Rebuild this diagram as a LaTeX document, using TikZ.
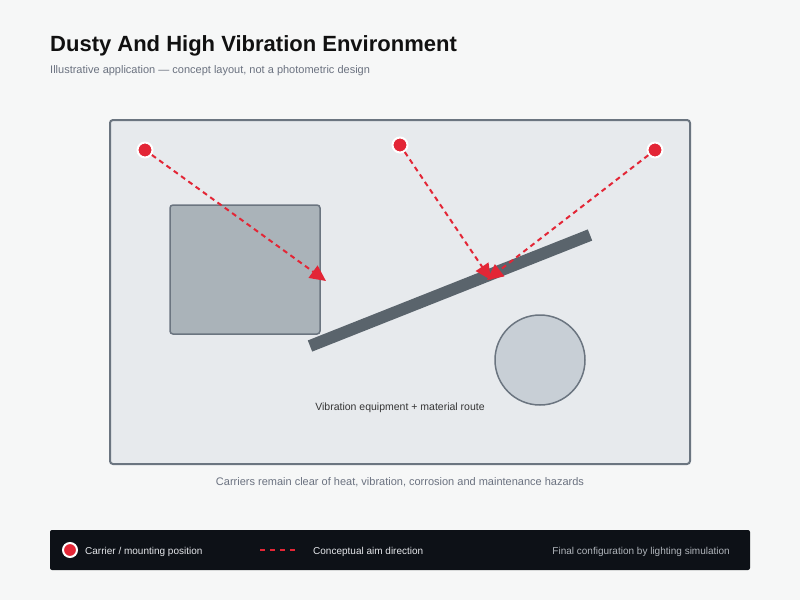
\documentclass[tikz,border=0pt]{standalone}
\usepackage{fontspec}
\setmainfont{Liberation Sans}
\usetikzlibrary{arrows.meta}
\definecolor{bgc}{HTML}{F6F7F7}
\definecolor{framefill}{HTML}{E7EAED}
\definecolor{framedraw}{HTML}{6B7580}
\definecolor{boxfill}{HTML}{AAB3B9}
\definecolor{barc}{HTML}{5A646C}
\definecolor{circfill}{HTML}{C8CFD6}
\definecolor{redc}{HTML}{E32636}
\definecolor{titlec}{HTML}{111111}
\definecolor{subc}{HTML}{6B7280}
\definecolor{legbg}{HTML}{0D1117}
\definecolor{legtext}{HTML}{E5E7EB}
\definecolor{legtext2}{HTML}{B0B5BB}
\tikzset{
  carrier/.style={circle, fill=redc, draw=white, line width=2pt, minimum size=15pt, inner sep=0pt},
  aim/.style={redc, line width=2pt, dash pattern=on 5pt off 4pt, -{Triangle[length=16pt,width=15pt]}, shorten >=0pt},
  txt/.style={inner sep=0pt, font=\fontsize{11}{13}\selectfont},
}
\begin{document}
\begin{tikzpicture}[x=1pt,y=-1pt]
\useasboundingbox (0,0) rectangle (800,600);
\fill[bgc] (0,0) rectangle (800,600);
% title
\node[anchor=base west, inner sep=0pt, font=\bfseries\fontsize{22}{26}\selectfont, text=titlec] (title) at (50,51) {Dusty And High Vibration Environment};
\node[anchor=base west, txt, text=subc] (subtitle) at (50,73) {Illustrative application — concept layout, not a photometric design};
% frame
\draw[fill=framefill, draw=framedraw, line width=2pt, rounded corners=3pt] (110,120) rectangle (690,464);
% equipment box
\draw[fill=boxfill, draw=framedraw, line width=1.5pt, rounded corners=3pt] (170,205) rectangle (320,334);
% conveyor bar
\draw[barc, line width=12pt] (310,346) -- (590,235);
% circle
\draw[fill=circfill, draw=framedraw, line width=1.5pt] (540,360) circle (45);
\node[inner sep=0pt, font=\fontsize{10.5}{12}\selectfont, anchor=base, text=titlec!85] (route) at (400,410) {Vibration equipment + material route};
% carriers
\coordinate (t1) at (326,281);
\coordinate (t2) at (491,280);
\coordinate (t3) at (487,280);
\node[carrier] (c1) at (145,150) {};
\node[carrier] (c2) at (400,145) {};
\node[carrier] (c3) at (655,150) {};
\draw[aim] (c1) -- (t1);
\draw[aim] (c2) -- (t2);
\draw[aim] (c3) -- (t3);
% caption
\node[txt, anchor=base, text=subc] (caption) at (400,485) {Carriers remain clear of heat, vibration, corrosion and maintenance hazards};
% legend
\fill[legbg, rounded corners=2pt] (50,530) rectangle (750,570);
\node[carrier, minimum size=14pt] (lc) at (70,550) {};
\node[anchor=base west, inner sep=0pt, font=\fontsize{10}{12}\selectfont, text=legtext] (l1) at (85,554) {Carrier / mounting position};
\coordinate (la) at (260,550);
\coordinate (lb) at (296,550);
\draw[redc, line width=2pt, dash pattern=on 5pt off 5pt] (la) -- (lb);
\node[anchor=base west, inner sep=0pt, font=\fontsize{10}{12}\selectfont, text=legtext] (l2) at (313,554) {Conceptual aim direction};
\node[anchor=base east, inner sep=0pt, font=\fontsize{10}{12}\selectfont, text=legtext2] (l3) at (730,554) {Final configuration by lighting simulation};
\end{tikzpicture}
\end{document}
